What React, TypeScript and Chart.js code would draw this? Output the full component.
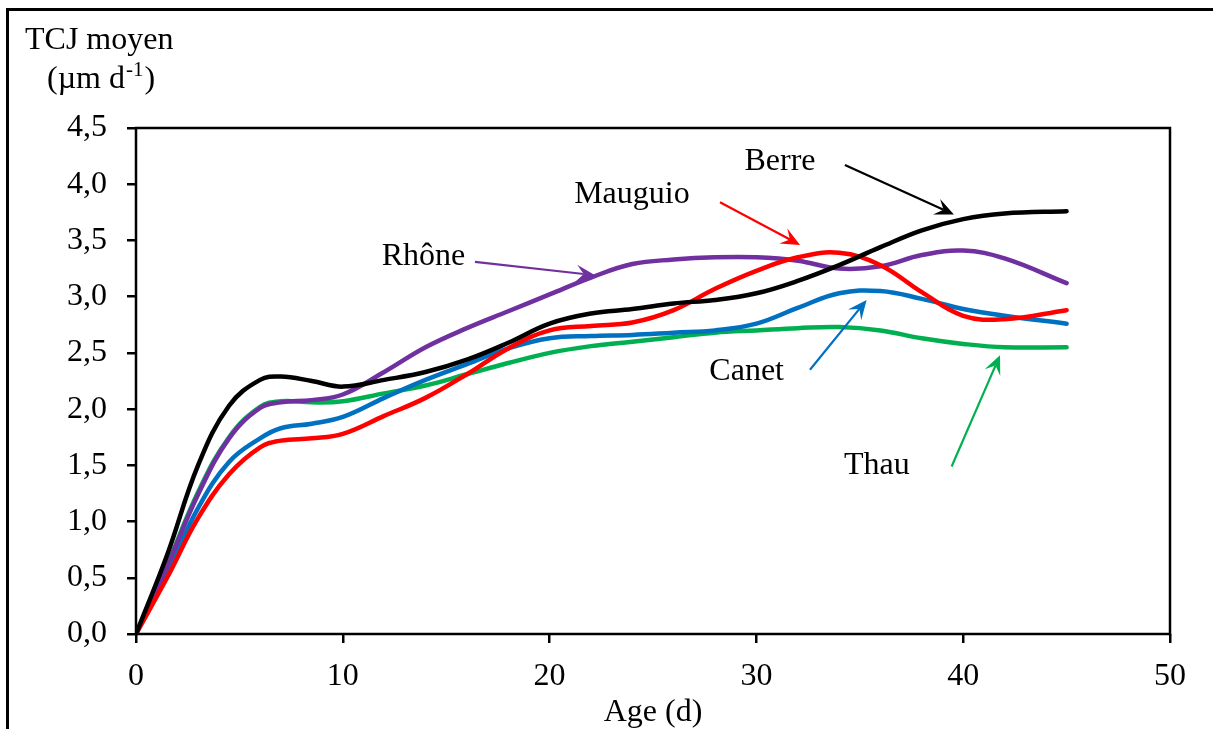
import React, { useEffect, useRef } from 'react';
import { Chart, registerables } from 'chart.js';

Chart.register(...registerables);

// Age (days) shared by every site
const days = [0, 1.5, 3, 4.5, 6, 7, 8.5, 10, 12, 14, 16, 18, 20, 22, 24, 26, 28, 30, 32, 34, 36, 38, 40, 42, 45];

// Mean daily growth rate (µm d-1) per site
const berre = [0, 0.7, 1.5, 2.03, 2.26, 2.29, 2.25, 2.2, 2.26, 2.33, 2.44, 2.59, 2.76, 2.85, 2.89, 2.94, 2.97, 3.03, 3.14, 3.28, 3.44, 3.59, 3.69, 3.74, 3.76];
const mauguio = [0, 0.5, 1.03, 1.42, 1.66, 1.72, 1.74, 1.78, 1.94, 2.1, 2.31, 2.54, 2.7, 2.74, 2.77, 2.88, 3.07, 3.23, 3.35, 3.39, 3.28, 3.04, 2.83, 2.8, 2.88];
const rhone = [0, 0.6, 1.24, 1.74, 2.01, 2.06, 2.08, 2.13, 2.33, 2.55, 2.72, 2.87, 3.02, 3.17, 3.29, 3.33, 3.35, 3.35, 3.32, 3.25, 3.27, 3.37, 3.41, 3.34, 3.12];
const canet = [0, 0.54, 1.12, 1.53, 1.74, 1.83, 1.87, 1.93, 2.1, 2.26, 2.4, 2.54, 2.63, 2.65, 2.66, 2.68, 2.7, 2.76, 2.9, 3.03, 3.05, 2.98, 2.89, 2.83, 2.76];
const thau = [0, 0.61, 1.26, 1.75, 2.02, 2.07, 2.06, 2.07, 2.14, 2.21, 2.31, 2.41, 2.5, 2.56, 2.6, 2.64, 2.68, 2.7, 2.72, 2.73, 2.7, 2.63, 2.58, 2.55, 2.55];

const seriesNames = ['Berre', 'Mauguio', 'Rhône', 'Canet', 'Thau'];
const seriesValues = [berre, mauguio, rhone, canet, thau];
const seriesColors = ['#000000', '#FF0000', '#7030A0', '#0070C0', '#00B050'];

// Site labels and their pointer arrows, in data units (day, rate)
const labelX = [31.14, 23.98, 13.9, 29.53, 35.82];
const labelY = [4.2, 3.91, 3.36, 2.33, 1.5];
const arrowFromX = [34.28, 28.24, 16.39, 32.59, 39.44];
const arrowFromY = [4.17, 3.84, 3.31, 2.35, 1.49];
const arrowToX = [39.55, 32.11, 22.2, 35.33, 41.78];
const arrowToY = [3.73, 3.46, 3.19, 2.97, 2.48];

const FONT = '"Liberation Serif", "Times New Roman", serif';

function drawArrow(ctx: CanvasRenderingContext2D, x1: number, y1: number, x2: number, y2: number, color: string) {
  const dx = x2 - x1;
  const dy = y2 - y1;
  const len = Math.hypot(dx, dy);
  const ux = dx / len;
  const uy = dy / len;
  const px = -uy;
  const py = ux;
  const headLen = 19;
  const headW = 8.5;
  ctx.save();
  ctx.strokeStyle = color;
  ctx.fillStyle = color;
  ctx.lineWidth = 2.2;
  ctx.beginPath();
  ctx.moveTo(x1, y1);
  ctx.lineTo(x2 - ux * headLen * 0.6, y2 - uy * headLen * 0.6);
  ctx.stroke();
  ctx.beginPath();
  ctx.moveTo(x2, y2);
  ctx.lineTo(x2 - ux * headLen + px * headW, y2 - uy * headLen + py * headW);
  ctx.lineTo(x2 - ux * headLen * 0.6, y2 - uy * headLen * 0.6);
  ctx.lineTo(x2 - ux * headLen - px * headW, y2 - uy * headLen - py * headW);
  ctx.closePath();
  ctx.fill();
  ctx.restore();
}

const framePlugin = {
  id: 'plotFrame',
  beforeDatasetsDraw(chart: any) {
    const { ctx, chartArea: a } = chart;
    ctx.save();
    ctx.strokeStyle = '#000';
    ctx.lineWidth = 2.5;
    ctx.strokeRect(a.left, a.top, a.right - a.left, a.bottom - a.top);
    ctx.restore();
  },
  afterDraw(chart: any) {
    const { ctx, chartArea: a } = chart;
    const xs = chart.scales.x;
    const ys = chart.scales.y;
    ctx.save();
    ctx.fillStyle = '#000';

    // y-axis title, two lines with a superscript exponent
    ctx.font = `32px ${FONT}`;
    ctx.textAlign = 'left';
    ctx.textBaseline = 'alphabetic';
    ctx.fillText('TCJ moyen', 25, 49);
    const part1 = '(µm d';
    ctx.fillText(part1, 47, 88);
    let cx = 47 + ctx.measureText(part1).width + 1;
    ctx.font = `21px ${FONT}`;
    ctx.fillText('-1', cx, 76);
    cx += ctx.measureText('-1').width + 1;
    ctx.font = `32px ${FONT}`;
    ctx.fillText(')', cx, 88);

    // x-axis title
    ctx.textAlign = 'center';
    ctx.fillText('Age (d)', (a.left + a.right) / 2, 721);

    // site labels with arrows
    ctx.textBaseline = 'middle';
    for (let i = 0; i < seriesNames.length; i++) {
      ctx.fillStyle = '#000';
      ctx.fillText(seriesNames[i], xs.getPixelForValue(labelX[i]), ys.getPixelForValue(labelY[i]));
      drawArrow(
        ctx,
        xs.getPixelForValue(arrowFromX[i]),
        ys.getPixelForValue(arrowFromY[i]),
        xs.getPixelForValue(arrowToX[i]),
        ys.getPixelForValue(arrowToY[i]),
        seriesColors[i]
      );
    }
    ctx.restore();
  },
};

export default function App() {
  const canvasRef = useRef<HTMLCanvasElement>(null);

  useEffect(() => {
    const canvas = canvasRef.current;
    if (!canvas) return;
    const chart = new Chart(canvas, {
      type: 'line',
      data: {
        datasets: seriesNames.map((name, i) => ({
          label: name,
          data: days.map((d, j) => ({ x: d, y: seriesValues[i][j] })),
          borderColor: seriesColors[i],
          backgroundColor: seriesColors[i],
          borderWidth: 4.5,
          pointRadius: 0,
          tension: 0.4,
          borderCapStyle: 'round' as const,
          borderJoinStyle: 'round' as const,
          fill: false,
        })),
      },
      options: {
        responsive: false,
        animation: false,
        devicePixelRatio: 1,
        layout: { padding: { left: 0, top: 128, right: 43, bottom: 0 } },
        plugins: {
          legend: { display: false },
          tooltip: { enabled: false },
        },
        font: { family: FONT },
        scales: {
          x: {
            type: 'linear',
            min: 0,
            max: 50,
            afterFit: (s: any) => { s.height = 95; },
            ticks: {
              stepSize: 10,
              padding: 14,
              color: '#000',
              font: { family: FONT, size: 32 },
              maxRotation: 0,
            },
            grid: {
              drawOnChartArea: false,
              drawTicks: true,
              tickLength: 9,
              color: '#000',
              lineWidth: 2.5,
            },
            border: { display: false },
          },
          y: {
            type: 'linear',
            min: 0,
            max: 4.5,
            afterFit: (s: any) => { s.width = 136; },
            ticks: {
              stepSize: 0.5,
              padding: 20,
              color: '#000',
              font: { family: FONT, size: 32 },
              callback: (v: any) => Number(v).toFixed(1).replace('.', ','),
            },
            grid: {
              drawOnChartArea: false,
              drawTicks: true,
              tickLength: 9,
              color: '#000',
              lineWidth: 2.5,
            },
            border: { display: false },
          },
        },
      } as any,
      plugins: [framePlugin],
    });
    return () => chart.destroy();
  }, []);

  return (
    <>
      <div
        style={{
          position: 'absolute',
          left: 6,
          top: 8,
          width: 1207,
          height: 721,
          borderLeft: '3px solid #000',
          borderTop: '3px solid #000',
          boxSizing: 'border-box',
        }}
      />
      <div style={{ position: 'absolute', left: 0, top: 0, width: 1213, height: 729 }}>
        <canvas ref={canvasRef} width={1213} height={729} style={{ width: 1213, height: 729, display: 'block' }} />
      </div>
    </>
  );
}
